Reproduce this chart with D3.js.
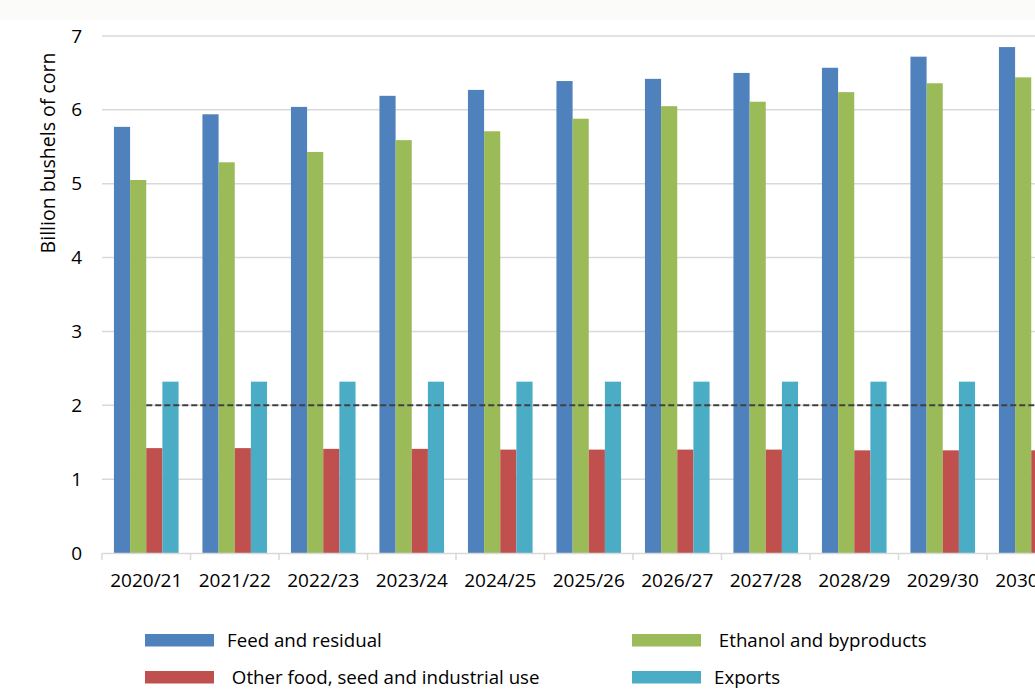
<!DOCTYPE html>
<html>
<head>
<meta charset="utf-8">
<script src="https://cdn.jsdelivr.net/npm/d3@7"></script>
<style>
  html, body { margin: 0; padding: 0; background: #ffffff; overflow: hidden; }
  svg { display: block; font-family: "Open Sans", sans-serif; }
</style>
</head>
<body>
<svg id="chart" width="1035" height="695"></svg>
<script>
const categories = ["2020/21","2021/22","2022/23","2023/24","2024/25","2025/26","2026/27","2027/28","2028/29","2029/30","2030/31"];
const feed    = [5.77, 5.94, 6.04, 6.19, 6.27, 6.39, 6.42, 6.50, 6.57, 6.72, 6.85];
const ethanol = [5.05, 5.29, 5.43, 5.59, 5.71, 5.88, 6.05, 6.11, 6.24, 6.36, 6.44];
const other   = [1.42, 1.42, 1.41, 1.41, 1.40, 1.40, 1.40, 1.40, 1.39, 1.39, 1.39];
const exportsV= [2.32, 2.32, 2.32, 2.32, 2.32, 2.32, 2.32, 2.32, 2.32, 2.32, 2.32];
const refLine = 2;
const yTicks  = [0, 1, 2, 3, 4, 5, 6, 7];
const seriesNames = ["Feed and residual", " Ethanol and byproducts", " Other food, seed and industrial use", "Exports"];
const seriesColors = ["#4f81bd", "#9bbb59", "#c0504d", "#4bacc6"];
const seriesData = [feed, ethanol, other, exportsV];

const svg = d3.select("#chart");
const W = 1035, H = 695;
const plotLeft = 102, plotRight = 1075.5, plotTop = 36, plotBottom = 553;

// top band
svg.append("rect").attr("x", 0).attr("y", 0).attr("width", W).attr("height", 20).attr("fill", "#fbfbf9");

const x = d3.scaleBand().domain(categories).range([plotLeft, plotRight]).paddingInner(0).paddingOuter(0);
const groupPad = 0.135;
const xs = d3.scaleBand().domain(d3.range(4)).range([x.bandwidth() * groupPad, x.bandwidth() * (1 - groupPad)]).padding(0);
const y = d3.scaleLinear().domain([0, 7]).range([plotBottom, plotTop]);

// gridlines
svg.append("g").selectAll("line").data(yTicks.filter(d => d > 0)).join("line")
  .attr("x1", plotLeft).attr("x2", W)
  .attr("y1", d => y(d)).attr("y2", d => y(d))
  .attr("stroke", "#d9d9d9").attr("stroke-width", 1.5);

// y axis labels
const yAxis = d3.axisLeft(y).tickValues(yTicks).tickSize(0).tickPadding(20).tickFormat(d3.format("d"));
const ya = svg.append("g").attr("transform", `translate(${plotLeft},0)`).call(yAxis);
ya.select(".domain").remove();
ya.selectAll("text").attr("font-size", 19).attr("fill", "#000").attr("font-family", "Open Sans, sans-serif");

// bars
const groups = svg.append("g").selectAll("g").data(categories).join("g")
  .attr("transform", d => `translate(${x(d)},0)`);
groups.selectAll("rect").data((d, i) => seriesData.map((s, k) => ({k, v: s[i]}))).join("rect")
  .attr("x", d => xs(d.k)).attr("width", xs.bandwidth())
  .attr("y", d => y(d.v)).attr("height", d => y(0) - y(d.v))
  .attr("fill", d => seriesColors[d.k]);

// x axis
const xAxis = d3.axisBottom(x).tickSize(0).tickPadding(21);
const xa = svg.append("g").attr("transform", `translate(0,${plotBottom})`).call(xAxis);
xa.select(".domain").attr("stroke", "#d9d9d9").attr("stroke-width", 1.5);
xa.selectAll("text").attr("font-size", 19).attr("fill", "#000").attr("font-family", "Open Sans, sans-serif");
// boundary ticks
const bounds = categories.map(c => x(c)).concat([plotRight]);
svg.append("g").selectAll("line").data(bounds).join("line")
  .attr("x1", d => d).attr("x2", d => d)
  .attr("y1", plotBottom).attr("y2", plotBottom + 7)
  .attr("stroke", "#d9d9d9").attr("stroke-width", 1.5);

// dashed reference line
svg.append("line")
  .attr("x1", x(categories[0]) + x.bandwidth() / 2).attr("x2", W)
  .attr("y1", y(refLine)).attr("y2", y(refLine))
  .attr("stroke", "#404040").attr("stroke-width", 2).attr("stroke-dasharray", "6,3");

// y-axis title
svg.append("text")
  .attr("transform", `translate(55,${153}) rotate(-90)`)
  .attr("text-anchor", "middle")
  .attr("font-size", 19.5).attr("fill", "#000")
  .text("Billion bushels of corn");

// legend
const legendItems = [
  {k: 0, x: 145, y: 634, tx: 227},
  {k: 1, x: 632, y: 634, tx: 714},
  {k: 2, x: 145, y: 671, tx: 227},
  {k: 3, x: 632, y: 671, tx: 714}
];
const lg = svg.append("g").selectAll("g").data(legendItems).join("g");
lg.append("rect").attr("x", d => d.x).attr("y", d => d.y).attr("width", 69).attr("height", 12.5)
  .attr("fill", d => seriesColors[d.k]);
lg.append("text").attr("x", d => d.tx).attr("y", d => d.y + 13)
  .attr("font-size", 18.7).attr("fill", "#000")
  .style("white-space", "pre")
  .text(d => seriesNames[d.k]);
</script>
</body>
</html>
